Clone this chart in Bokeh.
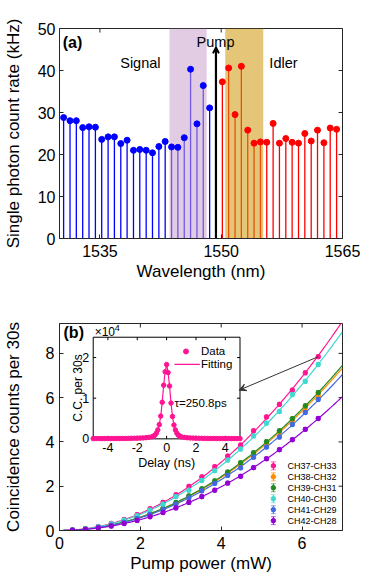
import numpy as np
from bokeh.plotting import figure
from bokeh.models import Range1d, FixedTicker, Arrow, OpenHead, VeeHead, Label
from bokeh.layouts import column
from bokeh.core.properties import value
from bokeh.embed import file_html
from bokeh.resources import INLINE

# ---------------- data: panel (a) ----------------
signal_wl = [1530.51, 1531.30, 1532.08, 1532.87, 1533.65, 1534.44, 1535.22, 1536.01,
             1536.79, 1537.58, 1538.36, 1539.15, 1539.93, 1540.72, 1541.50, 1542.29,
             1543.07, 1543.86, 1544.64, 1545.43, 1546.21, 1547.00, 1547.78, 1548.57]
signal_rate = [28.8, 28.05, 28.05, 26.4, 26.6, 26.5, 23.6, 24.2, 24.2, 22.6, 23.4, 21.0,
               21.2, 21.0, 20.4, 21.9, 23.1, 21.8, 21.7, 24.0, 40.3, 27.3, 36.4, 31.1]
idler_wl = [1550.14, 1550.92, 1551.71, 1552.49, 1553.28, 1554.06, 1554.85, 1555.63,
            1556.42, 1557.20, 1557.99, 1558.77, 1559.56, 1560.34, 1561.13, 1561.91,
            1562.70, 1563.48, 1564.27]
idler_rate = [37.3, 40.6, 29.5, 41.0, 25.8, 22.7, 23.0, 22.9, 27.4, 22.7, 23.8, 22.9,
              22.7, 25.0, 23.2, 25.8, 22.8, 26.3, 26.0]
pump_wl = 1549.35
pump_top = 45.5
signal_band = (1543.6, 1548.2)
idler_band = (1550.5, 1555.2)
a_xticks = [1535, 1550, 1565]
a_yticks = [0, 10, 20, 30, 40, 50]

# ---------------- data: panel (b) ----------------
pump_power = [0.32, 0.64, 0.96, 1.28, 1.60, 1.92, 2.24, 2.56, 2.88, 3.20,
              3.52, 3.84, 4.16, 4.48, 4.80, 5.12, 5.44, 5.76, 6.08, 6.40]
ch37_33 = [210, 800, 1760, 3200, 4980, 7150, 9800, 12700, 16100, 19900,
           24200, 28800, 33600, 38600, 45000, 51300, 57000, 63400, 71200, 78500]
ch38_32 = [150, 600, 1380, 2450, 3850, 5500, 7500, 9800, 12500, 15300,
           18600, 22100, 26000, 30200, 34600, 39300, 44400, 49800, 55500, 61000]
ch39_31 = [160, 630, 1410, 2500, 3900, 5650, 7650, 10000, 12600, 15600,
           18800, 22400, 26400, 30600, 35100, 40100, 45000, 50500, 56300, 62300]
ch40_30 = [190, 740, 1700, 2980, 4700, 6700, 9200, 11900, 15300, 18200,
           22600, 27000, 31800, 36800, 42700, 48500, 53700, 61400, 67400, 75000]
ch41_29 = [145, 580, 1320, 2350, 3680, 5300, 7250, 9400, 11900, 14700,
           17900, 21300, 24900, 28300, 33100, 37700, 42200, 47900, 53300, 59200]
ch42_28 = [125, 500, 1130, 2010, 3150, 4540, 6200, 8100, 10200, 12700,
           15300, 18200, 21400, 24500, 28400, 32400, 36500, 41000, 45700, 50600]
pair_names = ["CH37-CH33", "CH38-CH32", "CH39-CH31", "CH40-CH30", "CH41-CH29", "CH42-CH28"]
pair_counts = [ch37_33, ch38_32, ch39_31, ch40_30, ch41_29, ch42_28]
pair_colors = ["#FF1493", "#FF8C00", "#228B22", "#40D8D0", "#4169E1", "#9400D3"]
count_err = 800
b_xticks = [0, 2, 4, 6]
b_yticks = [0, 20000, 40000, 60000, 80000]
b_ylabels = ["0", "2", "4", "6", "8"]

# inset: coincidence histogram
delay_ns = [-5.0, -4.8, -4.6, -4.4, -4.2, -4.0, -3.8, -3.6, -3.4, -3.2, -3.0, -2.8, -2.6,
            -2.4, -2.2, -2.0, -1.8, -1.6, -1.4, -1.2,
            -1.0, -0.9, -0.8, -0.7, -0.6, -0.5, -0.4, -0.3, -0.2, -0.1, 0.0,
            0.1, 0.2, 0.3, 0.4, 0.5, 0.6, 0.7, 0.8, 0.9, 1.0,
            1.2, 1.4, 1.6, 1.8, 2.0, 2.2, 2.4, 2.6, 2.8, 3.0, 3.2, 3.4, 3.6, 3.8,
            4.0, 4.2, 4.4, 4.6, 4.8, 5.0]
cc_counts = [60, 60, 70, 60, 70, 70, 70, 80, 80, 90, 90, 100, 110, 120, 140, 160, 190, 230, 290, 380,
             500, 650, 900, 1400, 2200, 3500, 5600, 9000, 13200, 16500, 18300,
             16300, 13000, 8800, 5500, 3400, 2200, 1400, 900, 650, 480,
             370, 280, 220, 180, 160, 140, 120, 110, 100, 90, 90, 80, 80, 70,
             70, 70, 60, 70, 60, 60]
inset_xticks = [-4, -2, 0, 2, 4]
inset_yticks = [0, 10000, 20000]
inset_ylabels = ["0", "1", "2"]
tau_text = "\u03c4=250.8ps"

FONT = "Liberation Sans"
AX = "#262626"
PINK = pair_colors[0]
W = 370
BL, BR = 54, 28


def style(p, xt, yt, xlabel, ylabel, xr, yr, fw, fh, ystand, ylabstand, ylabel_over=None):
    p.grid.visible = False
    p.outline_line_color = AX
    p.outline_line_width = 1
    for ax in (p.xaxis[0], p.yaxis[0]):
        ax.major_tick_in = 4
        ax.major_tick_out = 0
        ax.minor_tick_line_color = None
        ax.axis_line_color = AX
        ax.major_tick_line_color = AX
        ax.major_label_text_font = FONT
        ax.major_label_text_font_size = "16px"
        ax.major_label_text_color = "black"
        ax.axis_label_text_font = FONT
        ax.axis_label_text_font_size = "17px"
        ax.axis_label_text_font_style = "normal"
        ax.axis_label_text_color = "black"
    p.xaxis[0].ticker = FixedTicker(ticks=xt)
    p.yaxis[0].ticker = FixedTicker(ticks=yt)
    p.xaxis[0].axis_label = xlabel
    p.yaxis[0].axis_label = ylabel
    p.xaxis[0].major_label_standoff = 6
    p.xaxis[0].axis_label_standoff = 2
    p.yaxis[0].major_label_standoff = ystand
    p.yaxis[0].axis_label_standoff = ylabstand
    if ylabel_over:
        p.yaxis[0].major_label_overrides = ylabel_over
    # mirrored inward ticks on top and right edges
    dx = (xr[1] - xr[0]) / fw * 4
    dy = (yr[1] - yr[0]) / fh * 4
    p.segment(x0=xt, y0=[yr[1]] * len(xt), x1=xt, y1=[yr[1] - dy] * len(xt), line_color=AX, line_width=1)
    p.segment(x0=[xr[1]] * len(yt), y0=yt, x1=[xr[1] - dx] * len(yt), y1=yt, line_color=AX, line_width=1)


# ================= panel (a) =================
FW1, FH1 = W - BL - BR, 210
XR1, YR1 = (1530, 1565), (0, 50)
p1 = figure(width=W, height=28 + FH1 + 45, x_range=Range1d(*XR1), y_range=Range1d(*YR1),
            output_backend="svg", toolbar_location=None,
            min_border_left=BL, min_border_right=BR, min_border_top=28, min_border_bottom=45,
            background_fill_color="white", border_fill_color="white")
style(p1, a_xticks, a_yticks, "Wavelength (nm)", "Single photon count rate (kHz)", XR1, YR1, FW1, FH1, 4, 12)

p1.segment(x0=signal_wl, y0=0, x1=signal_wl, y1=signal_rate, line_color="#0000FF", line_width=1.3)
p1.segment(x0=idler_wl, y0=0, x1=idler_wl, y1=idler_rate, line_color="#FF0000", line_width=1.3)
p1.quad(left=[signal_band[0]], right=[signal_band[1]], bottom=0, top=50,
        fill_color="#CAA2CE", fill_alpha=0.55, line_color=None)
p1.quad(left=[idler_band[0]], right=[idler_band[1]], bottom=0, top=50,
        fill_color="#D0970A", fill_alpha=0.55, line_color=None)
p1.scatter(signal_wl, signal_rate, size=6, color="#0000FF")
p1.scatter(idler_wl, idler_rate, size=6, color="#FF0000")
p1.add_layout(Arrow(end=OpenHead(size=6, line_width=2, line_color="black"),
                    x_start=pump_wl, y_start=0, x_end=pump_wl, y_end=pump_top,
                    line_width=2.2, line_color="black"))
p1.text(x=[1530.4], y=[46.7], text=["(a)"], text_font=value(FONT), text_font_size=value("16px"),
        text_font_style="bold", text_align="left", text_baseline="middle", text_color="black")
p1.text(x=[1540.0, 1549.3, 1557.7], y=[41.7, 46.7, 41.7], text=["Signal", "Pump", "Idler"],
        text_font=value(FONT), text_font_size=value("14.5px"), text_align="center",
        text_baseline="middle", text_color="black")

# ================= panel (b) =================
FW2, FH2 = W - BL - BR, 207
XMAX2, YMAX2 = 7.0, 93500.0
p2 = figure(width=W, height=40 + FH2 + 45, x_range=Range1d(0, XMAX2), y_range=Range1d(0, YMAX2),
            output_backend="svg", toolbar_location=None,
            min_border_left=BL, min_border_right=BR, min_border_top=40, min_border_bottom=45,
            background_fill_color="white", border_fill_color="white")
style(p2, b_xticks, b_yticks, "Pump power (mW)", "Coincidence counts per 30s", (0, XMAX2), (0, YMAX2),
      FW2, FH2, 5, 20, ylabel_over={t: l for t, l in zip(b_yticks, b_ylabels)})
pxx = FW2 / XMAX2
pxy = FH2 / YMAX2

xfit = np.linspace(0, XMAX2, 200)
xp = np.array(pump_power)
for name, cnt, col in zip(pair_names, pair_counts, pair_colors):
    y = np.array(cnt, dtype=float)
    a = np.sum(xp ** 2 * y) / np.sum(xp ** 4)
    p2.line(xfit, a * xfit ** 2, line_color=col, line_width=1.2)
for name, cnt, col in zip(pair_names, pair_counts, pair_colors):
    y = np.array(cnt, dtype=float)
    p2.segment(x0=xp, y0=y - count_err, x1=xp, y1=y + count_err, line_color=col, line_width=1)
    p2.scatter(np.concatenate([xp, xp]), np.concatenate([y - count_err, y + count_err]),
               marker="dash", size=4, line_color=col, line_width=1)
    p2.scatter(xp, y, size=4.5, color=col)

# legend (manual, error-bar symbols)
leg_x_sym, leg_x_txt = 5.29, 5.64
leg_y0, leg_dy = 29200, 4950
for i, (name, col) in enumerate(zip(pair_names, pair_colors)):
    ly = leg_y0 - i * leg_dy
    p2.segment(x0=[leg_x_sym], y0=[ly - 1800], x1=[leg_x_sym], y1=[ly + 1800], line_color=col, line_width=1)
    p2.scatter([leg_x_sym, leg_x_sym], [ly - 1800, ly + 1800], marker="dash", size=5,
               line_color=col, line_alpha=0.6, line_width=1)
    p2.scatter([leg_x_sym], [ly], size=4.5, color=col)
    p2.text(x=[leg_x_txt], y=[ly], text=[name], text_font=value(FONT), text_font_size=value("9px"),
            text_align="left", text_baseline="middle", text_color="black")

p2.text(x=[0.1], y=[89300], text=["(b)"], text_font=value(FONT), text_font_size=value("16px"),
        text_font_style="bold", text_align="left", text_baseline="middle", text_color="black")
p2.add_layout(Label(x=0, y=YMAX2 + 11 / pxy, text="\u00d710", text_font=FONT, text_font_size="15px",
                    text_align="left", text_baseline="middle", text_color="black"))
p2.add_layout(Label(x=25.5 / pxx, y=YMAX2 + 16 / pxy, text="4", text_font=FONT, text_font_size="11px",
                    text_align="left", text_baseline="middle", text_color="black"))

# ---- inset via extra ranges ----
IX0, IX1, IY0, IY1 = -5.0, 5.0, 0.0, 25000.0
bx0, bx1, by0, by1 = 0.834, 4.465, 41400.0, 87300.0   # inset box in main data units
sx = (bx1 - bx0) / (IX1 - IX0)
sy = (by1 - by0) / (IY1 - IY0)
p2.extra_x_ranges = {"ix": Range1d(IX0 - bx0 / sx, IX1 + (XMAX2 - bx1) / sx)}
p2.extra_y_ranges = {"iy": Range1d(IY0 - by0 / sy, IY1 + (YMAX2 - by1) / sy)}
ipx = pxx * sx   # px per ns
ipy = pxy * sy   # px per inset count
R = dict(x_range_name="ix", y_range_name="iy")

p2.add_layout(Arrow(end=VeeHead(size=7, fill_color="#333333", line_color="#333333"),
                    x_start=pump_power[-1], y_start=ch37_33[-1], x_end=bx1 - 0.02, y_end=63400,
                    line_color="#333333", line_width=1))

p2.quad(left=[IX0], right=[IX1], bottom=[IY0], top=[IY1], fill_color="white",
        line_color="black", line_width=1, **R)
tl = 3
for t in inset_xticks:
    p2.segment(x0=[t, t], y0=[IY0, IY1], x1=[t, t], y1=[IY0 + tl / ipy, IY1 - tl / ipy],
               line_color="black", line_width=1, **R)
for t in inset_yticks:
    p2.segment(x0=[IX0, IX1], y0=[t, t], x1=[IX0 + tl / ipx, IX1 - tl / ipx], y1=[t, t],
               line_color="black", line_width=1, **R)
p2.line(delay_ns, cc_counts, line_color=PINK, line_width=1.2, **R)
p2.scatter(delay_ns, cc_counts, size=4.5, color=PINK, **R)
p2.text(x=inset_xticks, y=[IY0 - 4 / ipy] * len(inset_xticks), text=[str(t) for t in inset_xticks],
        text_font=value(FONT), text_font_size=value("12.5px"), text_align="center",
        text_baseline="top", text_color="black", **R)
p2.text(x=[IX0 - 4 / ipx] * 3, y=inset_yticks, text=inset_ylabels, text_font=value(FONT),
        text_font_size=value("12.5px"), text_align="right", text_baseline="middle",
        text_color="black", **R)
p2.text(x=[0], y=[IY0 - 17 / ipy], text=["Delay (ns)"], text_font=value(FONT),
        text_font_size=value("12.5px"), text_align="center", text_baseline="top", text_color="black", **R)
p2.text(x=[IX0 - 15.5 / ipx], y=[(IY0 + IY1) / 2], text=["C.C. per 30s"], angle=np.pi / 2,
        text_font=value(FONT), text_font_size=value("12px"), text_align="center",
        text_baseline="middle", text_color="black", **R)
p2.text(x=[IX0 + 0.1], y=[IY1 + 5 / ipy], text=["\u00d710"], text_font=value(FONT),
        text_font_size=value("12px"), text_align="left", text_baseline="middle", text_color="black", **R)
p2.text(x=[IX0 + 0.1 + 20.5 / ipx], y=[IY1 + 9.5 / ipy], text=["4"], text_font=value(FONT),
        text_font_size=value("9px"), text_align="left", text_baseline="middle", text_color="black", **R)
# inset legend
p2.scatter([1.32], [21500], size=5, color=PINK, **R)
p2.segment(x0=[0.535], y0=[18300], x1=[2.26], y1=[18300], line_color=PINK, line_width=1.2, **R)
p2.text(x=[2.34, 2.34], y=[21500, 18300], text=["Data", "Fitting"], text_font=value(FONT),
        text_font_size=value("11.5px"), text_align="left", text_baseline="middle", text_color="black", **R)
p2.text(x=[0.535], y=[8800], text=[tau_text], text_font=value(FONT), text_font_size=value("11.5px"),
        text_align="left", text_baseline="middle", text_color="black", **R)

layout = column(p1, p2)
open("out.html", "w").write(file_html(layout, INLINE))
